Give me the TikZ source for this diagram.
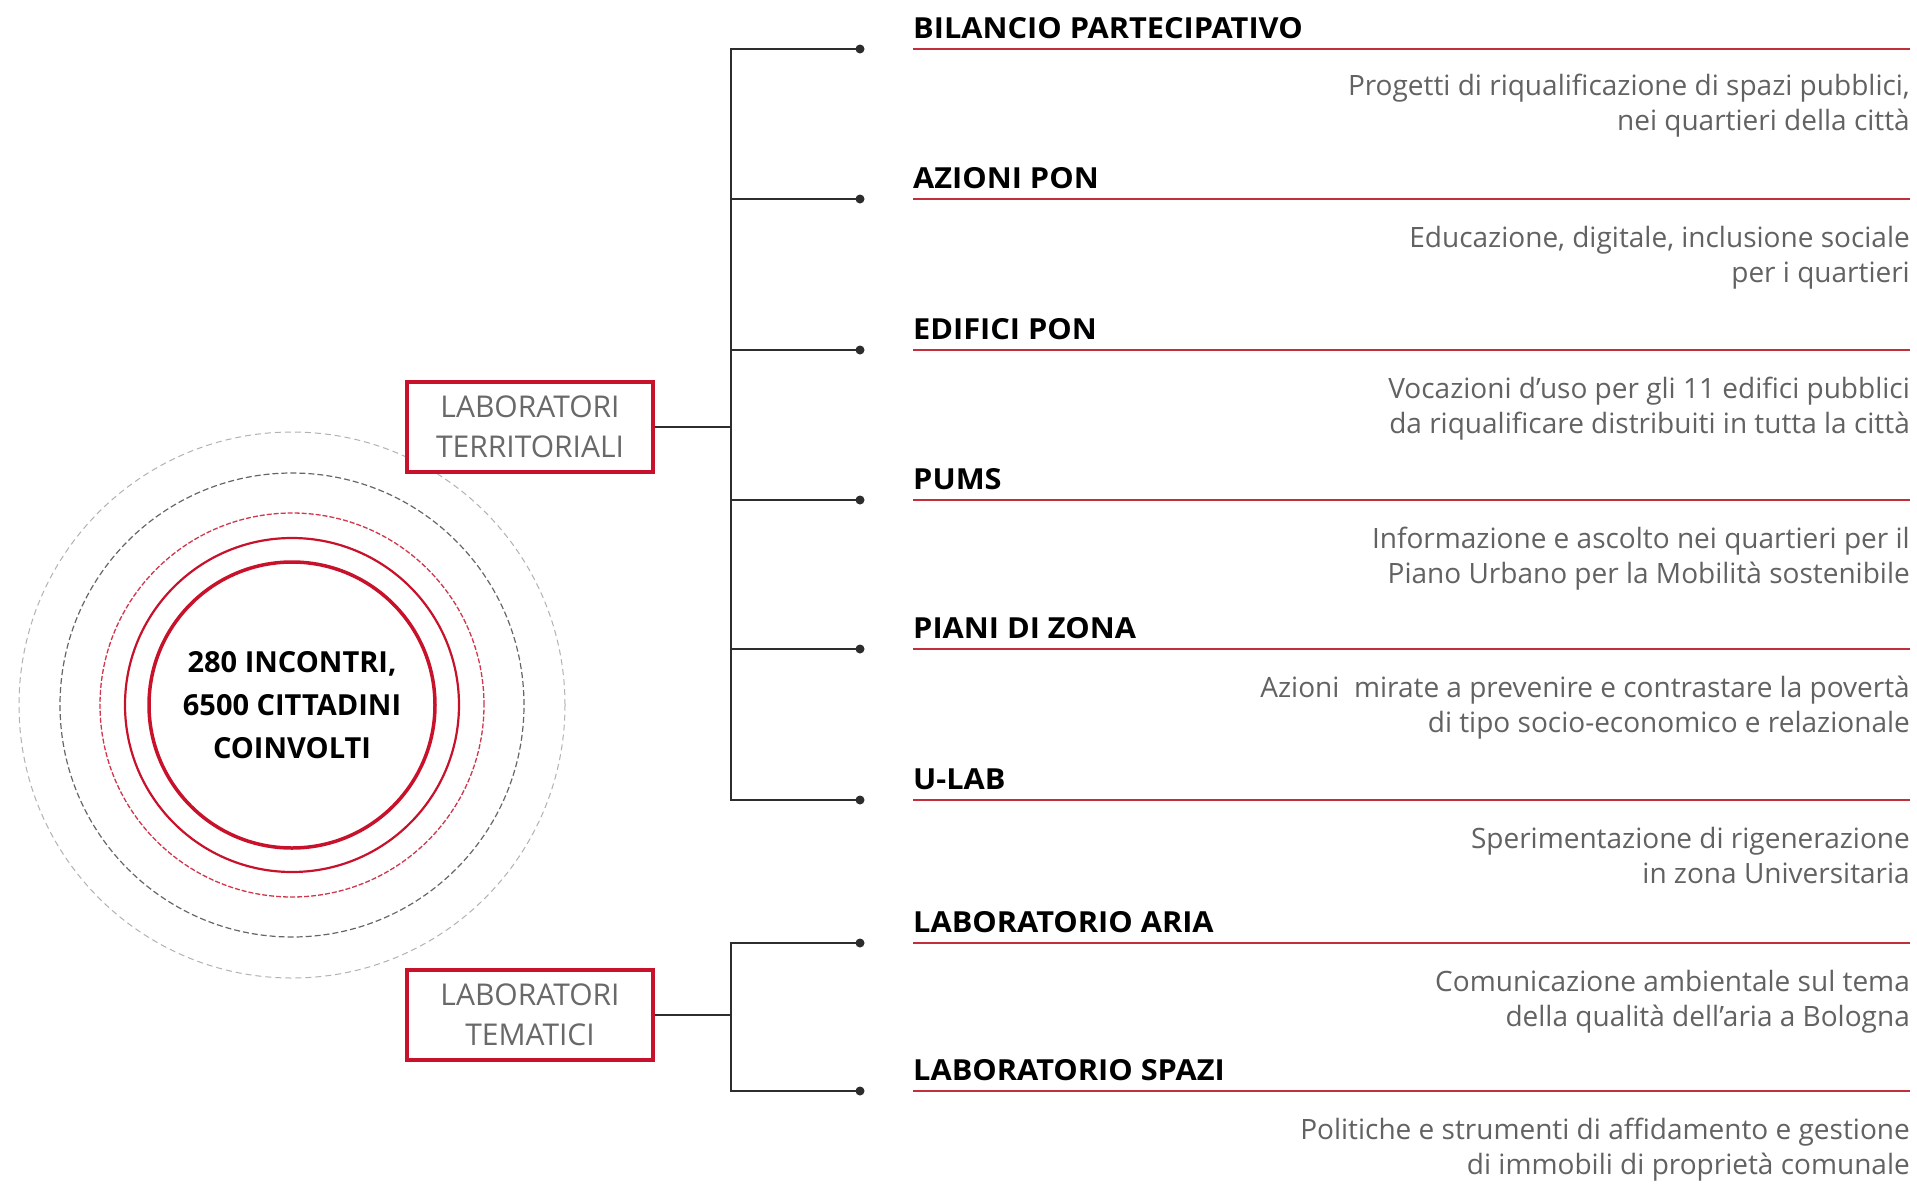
\documentclass[tikz,border=0pt]{standalone}
\usepackage{fontspec}
\setmainfont{Open Sans}
\definecolor{cred}{RGB}{200,18,44}
\definecolor{ulc}{RGB}{192,48,60}
\definecolor{descc}{RGB}{98,98,98}
\definecolor{boxc}{RGB}{105,105,105}
\definecolor{connc}{RGB}{45,45,45}
\newcommand{\hwide}[1]{\scalebox{1.06}[1]{#1}}
\tikzset{
 conn/.style={draw=connc, line width=2pt},
 bdot/.style={circle, fill=connc, inner sep=0pt, minimum size=9pt},
 hdr/.style={font=\fontsize{29}{34}\selectfont\bfseries, text=black, inner sep=0pt, anchor=base west},
 desc/.style={font=\fontsize{28}{34}\selectfont, text=descc, inner sep=0pt, anchor=base east},
 uline/.style={draw=ulc, line width=2.5pt},
 labbox/.style={draw=cred, line width=3.2pt, minimum width=246pt, minimum height=90pt, align=center, text=boxc, font=\fontsize{30}{40}\selectfont, inner sep=0pt},
 ringa/.style={draw=cred, line width=3.5pt},
 ringb/.style={draw=cred, line width=2.2pt},
 ringc/.style={draw=cred!85, line width=1.3pt, dash pattern=on 5pt off 2pt},
 ringd/.style={draw=black!60, line width=1.2pt, dash pattern=on 6pt off 3pt},
 ringe/.style={draw=black!30, line width=1pt, dash pattern=on 6pt off 4pt},
}
\begin{document}
\begin{tikzpicture}[x=1pt,y=-1pt]
\useasboundingbox (0,0) rectangle (1917,1189);
\fill[white] (0,0) rectangle (1917,1189);

% central circles
\node[font=\fontsize{29}{43}\selectfont\bfseries, align=center, inner sep=0pt] (core) at (292,705) {280 INCONTRI,\\6500 CITTADINI\\COINVOLTI};
\draw[ringe] (core.center) circle[radius=273pt];
\draw[ringd] (core.center) circle[radius=232pt];
\draw[ringc] (core.center) circle[radius=192pt];
\draw[ringb] (core.center) circle[radius=167pt];
\draw[ringa] (core.center) circle[radius=143pt];

% group boxes
\node[labbox, fill=white] (terr) at (530,427) {LABORATORI\\TERRITORIALI};
\node[labbox, fill=white] (tema) at (530,1015) {LABORATORI\\TEMATICI};

% tree coordinates
\coordinate (tj) at (731,427);
\coordinate (mj) at (731,1015);
\coordinate (b1) at (731,49);
\coordinate (b2) at (731,199);
\coordinate (b3) at (731,350);
\coordinate (b4) at (731,500);
\coordinate (b5) at (731,649);
\coordinate (b6) at (731,800);
\coordinate (b7) at (731,943);
\coordinate (b8) at (731,1091);
\node[bdot] (d1) at (860,49) {};
\node[bdot] (d2) at (860,199) {};
\node[bdot] (d3) at (860,350) {};
\node[bdot] (d4) at (860,500) {};
\node[bdot] (d5) at (860,649) {};
\node[bdot] (d6) at (860,800) {};
\node[bdot] (d7) at (860,943) {};
\node[bdot] (d8) at (860,1091) {};

\draw[conn] (terr.east) -- (tj);
\draw[conn] (tema.east) -- (mj);
\draw[conn, line cap=rect] (b1) -- (b6);
\draw[conn, line cap=rect] (b7) -- (b8);
\foreach \i in {1,...,8}{\draw[conn] (b\i) -- (d\i.center);}

% underlines
\foreach \i/\yy in {1/49,2/199,3/350,4/500,5/649,6/800,7/943,8/1091}{
  \coordinate (us\i) at (913,\yy);
  \coordinate (ue\i) at (1910,\yy);
  \draw[uline] (us\i) -- (ue\i);
}

% headers
\node[hdr] (h1) at (913,38) {\hwide{BILANCIO PARTECIPATIVO}};
\node[hdr] (h2) at (913,188) {\hwide{AZIONI PON}};
\node[hdr] (h3) at (913,339) {\hwide{EDIFICI PON}};
\node[hdr] (h4) at (913,489) {\hwide{PUMS}};
\node[hdr] (h5) at (913,638) {\hwide{PIANI DI ZONA}};
\node[hdr] (h6) at (913,789) {\hwide{U-LAB}};
\node[hdr] (h7) at (913,932) {\hwide{LABORATORIO ARIA}};
\node[hdr] (h8) at (913,1080) {\hwide{LABORATORIO SPAZI}};

% descriptions
\node[desc] (p1a) at (1910,95) {Progetti di riqualificazione di spazi pubblici,};
\node[desc] (p1b) at (1910,130) {nei quartieri della città};
\node[desc] (p2a) at (1910,247) {Educazione, digitale, inclusione sociale};
\node[desc] (p2b) at (1910,282) {per i quartieri};
\node[desc] (p3a) at (1910,398) {Vocazioni d’uso per gli 11 edifici pubblici};
\node[desc] (p3b) at (1910,433) {da riqualificare distribuiti in tutta la città};
\node[desc] (p4a) at (1910,548) {Informazione e ascolto nei quartieri per il};
\node[desc] (p4b) at (1910,583) {Piano Urbano per la Mobilità sostenibile};
\node[desc] (p5a) at (1910,697) {Azioni\ \ mirate a prevenire e contrastare la povertà};
\node[desc] (p5b) at (1910,732) {di tipo socio-economico e relazionale};
\node[desc] (p6a) at (1910,848) {Sperimentazione di rigenerazione};
\node[desc] (p6b) at (1910,883) {in zona Universitaria};
\node[desc] (p7a) at (1910,991) {Comunicazione ambientale sul tema};
\node[desc] (p7b) at (1910,1026) {della qualità dell’aria a Bologna};
\node[desc] (p8a) at (1910,1139) {Politiche e strumenti di affidamento e gestione};
\node[desc] (p8b) at (1910,1174) {di immobili di proprietà comunale};
\end{tikzpicture}
\end{document}
